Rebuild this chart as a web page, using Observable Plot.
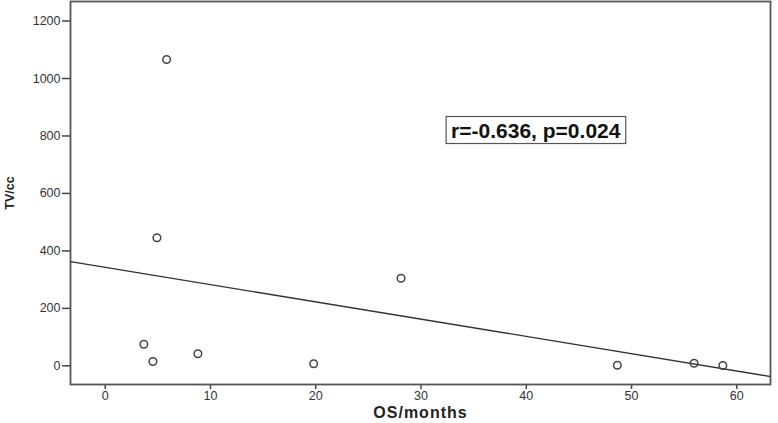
<!DOCTYPE html>
<html>
<head>
<meta charset="utf-8">
<script src="https://cdn.jsdelivr.net/npm/d3@7"></script>
<script src="https://cdn.jsdelivr.net/npm/@observablehq/plot@0.6"></script>
<style>
  html, body { margin: 0; padding: 0; background: #fff; }
  #chart svg { display: block; font-family: "Liberation Sans", Arial, sans-serif; }
</style>
</head>
<body>
<div id="chart"></div>
<script>
// Data
const osMonths = [3.67, 4.53, 4.91, 5.83, 8.8, 19.8, 28.1, 48.65, 55.94, 58.67];
const tvCc     = [75, 15, 446, 1066, 42, 7, 305, 2, 9, 1];
const xTicks = [0, 10, 20, 30, 40, 50, 60];
const yTicks = [0, 200, 400, 600, 800, 1000, 1200];
const xDomain = [-3.3, 63.2];
const yDomain = [-65, 1268];
// fitted line
const fitIntercept = 343;
const fitSlope = -6.02;
const fitX = [xDomain[0], xDomain[1]];
const annotationText = "r=-0.636, p=0.024";
const annotationPos = [{x: 40.9, y: 818}];
const xLabel = "OS/months";
const yLabel = "TV/cc";

const points = osMonths.map((x, i) => ({x, y: tvCc[i]}));
const fitLine = fitX.map(x => ({x, y: fitIntercept + fitSlope * x}));

const plot = Plot.plot({
  width: 778,
  height: 423,
  marginLeft: 70,
  marginRight: 8,
  marginTop: 1,
  marginBottom: 39,
  style: {fontFamily: "Liberation Sans, Arial, sans-serif", fontSize: "12.5px", color: "#333", background: "#fff"},
  x: {domain: xDomain},
  y: {domain: yDomain},
  marks: [
    Plot.axisX(xTicks, {tickSize: 5, tickPadding: 2, fill: "#333", stroke: "#444", strokeWidth: 1.5, label: null, tickFormat: d3.format("d")}),
    Plot.axisY(yTicks, {tickSize: 8, tickPadding: 2, fill: "#333", stroke: "#444", strokeWidth: 1.5, label: null, tickFormat: d3.format("d")}),
    Plot.frame({stroke: "#555", strokeWidth: 1.8}),
    Plot.line(fitLine, {x: "x", y: "y", stroke: "#333", strokeWidth: 1.3, clip: true}),
    Plot.dot(points, {x: "x", y: "y", r: 3.8, stroke: "#444", strokeWidth: 1.5, fill: "none"}),
    Plot.text(annotationPos, {x: "x", y: "y", text: () => annotationText, fontSize: 21, fontWeight: "bold", fill: "#111"}),
    Plot.text([xLabel], {text: d => d, frameAnchor: "bottom", lineAnchor: "middle", dy: 28, fontSize: 16, fontWeight: "bold", fill: "#222"}),
    Plot.text([yLabel], {text: d => d, frameAnchor: "left", textAnchor: "middle", lineAnchor: "middle", dx: -61, rotate: -90, fontSize: 12.5, fontWeight: "bold", fill: "#222"})
  ]
});
document.getElementById("chart").appendChild(plot);

const svg = d3.select(plot);
// Letter spacing on the x title
svg.selectAll("text").filter(function() { return this.textContent === xLabel; })
  .style("letter-spacing", "1px");

// Draw a box around the annotation text
svg.selectAll("text").each(function() {
  if (this.textContent === annotationText) {
    const bb = this.getBBox();
    const padX = 5, padY = 3;
    const parent = this.parentNode;
    const rect = document.createElementNS("http://www.w3.org/2000/svg", "rect");
    rect.setAttribute("x", bb.x - padX);
    rect.setAttribute("y", bb.y - padY + 1);
    rect.setAttribute("width", bb.width + 2 * padX);
    rect.setAttribute("height", bb.height + 2 * padY - 2);
    rect.setAttribute("fill", "#fff");
    rect.setAttribute("stroke", "#555");
    rect.setAttribute("stroke-width", "1.2");
    const t = this.getAttribute("transform");
    if (t) rect.setAttribute("transform", t);
    parent.insertBefore(rect, this);
  }
});
</script>
</body>
</html>
